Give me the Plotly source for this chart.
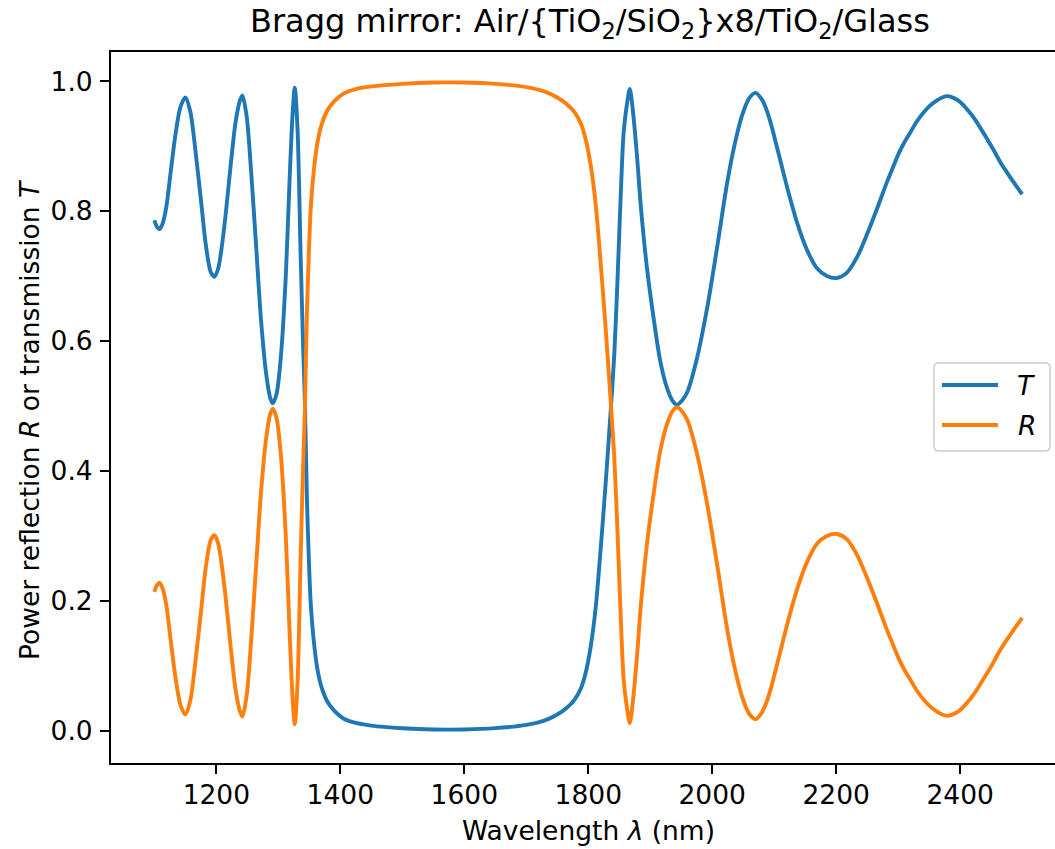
import plotly.graph_objects as go

# Wavelength samples (nm)
wavelength = [1100, 1104, 1108, 1113, 1119, 1126, 1134, 1142, 1150, 1158, 1166, 1175, 1183, 1191, 1197,
              1203, 1208, 1215, 1223, 1231, 1238, 1242, 1249, 1256, 1264, 1272, 1280, 1287, 1291, 1297,
              1304, 1312, 1318, 1323, 1326.5, 1331, 1336, 1340, 1343, 1346, 1349, 1352, 1357, 1363, 1370,
              1379, 1390, 1405, 1425, 1450, 1500, 1550, 1600, 1650, 1700, 1730, 1750, 1765, 1778, 1788,
              1796, 1804, 1812, 1820, 1828, 1836, 1842, 1847, 1852, 1857, 1862, 1867, 1873, 1879, 1885,
              1895, 1905, 1916, 1927, 1936, 1943, 1951, 1960, 1975, 1992, 2008,
              2024, 2036, 2048, 2059, 2070, 2080, 2088, 2096, 2104, 2112, 2121, 2137, 2153, 2169, 2185,
              2201, 2217, 2234, 2250, 2266, 2282, 2291, 2300, 2310, 2320, 2330, 2341, 2351, 2362, 2371,
              2380, 2390, 2400, 2410, 2421, 2432, 2443, 2454, 2465, 2476, 2486, 2500]

# Transmission T
T_values = [0.786, 0.776, 0.772, 0.780, 0.805, 0.858, 0.918, 0.960, 0.975, 0.953, 0.895, 0.818, 0.748, 0.706, 0.699,
            0.712, 0.740, 0.795, 0.870, 0.937, 0.970, 0.978, 0.945, 0.862, 0.748, 0.633, 0.552, 0.512, 0.504, 0.518,
            0.575, 0.700, 0.845, 0.950, 0.990, 0.925, 0.730, 0.590, 0.500, 0.360, 0.270, 0.200, 0.140, 0.095, 0.066,
            0.045, 0.031, 0.019, 0.012, 0.008, 0.004, 0.002, 0.002, 0.004, 0.009, 0.016, 0.025, 0.035, 0.048, 0.065,
            0.090, 0.130, 0.190, 0.280, 0.380, 0.490, 0.580, 0.690, 0.815, 0.920, 0.962, 0.988, 0.945, 0.880, 0.805,
            0.710, 0.638, 0.570, 0.528, 0.508, 0.502, 0.508, 0.522, 0.572, 0.652, 0.745,
            0.843, 0.902, 0.947, 0.973, 0.982, 0.972, 0.955, 0.930, 0.900, 0.870, 0.836, 0.782, 0.740, 0.712, 0.700,
            0.697, 0.705, 0.730, 0.765, 0.804, 0.845, 0.866, 0.887, 0.906, 0.922, 0.938, 0.952, 0.962, 0.970, 0.975,
            0.977, 0.974, 0.968, 0.958, 0.945, 0.929, 0.912, 0.894, 0.875, 0.859, 0.845, 0.826]

# Reflection R
R_values = [0.214, 0.224, 0.228, 0.220, 0.195, 0.142, 0.082, 0.040, 0.025, 0.047, 0.105, 0.182, 0.252, 0.294, 0.301,
            0.288, 0.260, 0.205, 0.130, 0.063, 0.030, 0.022, 0.055, 0.138, 0.252, 0.367, 0.448, 0.488, 0.496, 0.482,
            0.425, 0.300, 0.155, 0.050, 0.010, 0.075, 0.270, 0.410, 0.500, 0.640, 0.730, 0.800, 0.860, 0.905, 0.934,
            0.955, 0.969, 0.981, 0.988, 0.992, 0.996, 0.998, 0.998, 0.996, 0.991, 0.984, 0.975, 0.965, 0.952, 0.935,
            0.910, 0.870, 0.810, 0.720, 0.620, 0.510, 0.420, 0.310, 0.185, 0.080, 0.038, 0.012, 0.055, 0.120, 0.195,
            0.290, 0.362, 0.430, 0.472, 0.492, 0.498, 0.492, 0.478, 0.428, 0.348, 0.255,
            0.157, 0.098, 0.053, 0.027, 0.018, 0.028, 0.045, 0.070, 0.100, 0.130, 0.164, 0.218, 0.260, 0.288, 0.300,
            0.303, 0.295, 0.270, 0.235, 0.196, 0.155, 0.134, 0.113, 0.094, 0.078, 0.062, 0.048, 0.038, 0.030, 0.025,
            0.023, 0.026, 0.032, 0.042, 0.055, 0.071, 0.088, 0.106, 0.125, 0.141, 0.155, 0.174]

assert len(wavelength) == len(T_values) == len(R_values)

y_ticks = [0.0, 0.2, 0.4, 0.6, 0.8, 1.0]
x_ticks = [1200, 1400, 1600, 1800, 2000, 2200, 2400]

BLUE = "#1f77b4"
ORANGE = "#ff7f0e"
FONT = "DejaVu Sans"
FS = 26.5
LW = 3.9

W, H = 1055, 849
L, R_M, T_M, B_M = 111, 0, 52, 86
PW = W - L - R_M
PH = H - T_M - B_M


def px_x(px):
    return (px - L) / PW


def px_y(py):
    return (H - B_M - py) / PH


fig = go.Figure()
fig.add_trace(go.Scatter(x=wavelength, y=T_values, mode="lines", name="T",
                         line=dict(color=BLUE, width=LW, shape="spline", smoothing=0.8),
                         showlegend=False, hoverinfo="skip"))
fig.add_trace(go.Scatter(x=wavelength, y=R_values, mode="lines", name="R",
                         line=dict(color=ORANGE, width=LW, shape="spline", smoothing=0.8),
                         showlegend=False, hoverinfo="skip"))

fig.update_layout(
    width=W, height=H,
    margin=dict(l=L, r=R_M, t=T_M, b=B_M, pad=0),
    paper_bgcolor="white", plot_bgcolor="white",
    font=dict(family=FONT, size=FS, color="black"),
    showlegend=False,
)
fig.update_xaxes(range=[1030, 2553], tickvals=x_ticks, ticks="outside", ticklen=9, tickwidth=2,
                 tickcolor="black", showline=True, linecolor="black", linewidth=2, mirror=True,
                 showgrid=False, zeroline=False, ticklabelstandoff=-2,
                 tickfont=dict(family=FONT, size=FS, color="black"))
fig.update_yaxes(range=[-0.0496, 1.045], tickvals=y_ticks, tickformat=".1f", ticks="outside",
                 ticklen=9, tickwidth=2, tickcolor="black", showline=True, linecolor="black",
                 linewidth=2, mirror=False, showgrid=False, zeroline=False, ticklabelstandoff=2,
                 tickfont=dict(family=FONT, size=FS, color="black"))

annotations = [
    dict(text="Bragg mirror: Air/{TiO<sub>2</sub>/SiO<sub>2</sub>}x8/TiO<sub>2</sub>/Glass",
         x=px_x(590), y=px_y(23), xref="paper", yref="paper", showarrow=False,
         xanchor="center", yanchor="middle", font=dict(family=FONT, size=32, color="black")),
    dict(text="Wavelength <i>λ</i> (nm)", x=px_x(588), y=px_y(830), xref="paper", yref="paper",
         showarrow=False, xanchor="center", yanchor="middle", font=dict(family=FONT, size=FS, color="black")),
    dict(text="Power reflection <i>R</i> or transmission <i>T</i>", x=px_x(29), y=px_y(420),
         xref="paper", yref="paper", showarrow=False, textangle=-90, xanchor="center", yanchor="middle",
         font=dict(family=FONT, size=FS, color="black")),
    dict(text="<i>T</i>", x=px_x(1026), y=px_y(385), xref="paper", yref="paper", showarrow=False,
         xanchor="center", yanchor="middle", font=dict(family=FONT, size=FS, color="black")),
    dict(text="<i>R</i>", x=px_x(1027), y=px_y(426), xref="paper", yref="paper", showarrow=False,
         xanchor="center", yanchor="middle", font=dict(family=FONT, size=FS, color="black")),
]
fig.update_layout(annotations=annotations)

# Legend frame and handles (drawn as shapes in paper coordinates)
bx0, bx1, by0, by1, rr = 934, 1050, 363, 451, 5
path = (f"M {px_x(bx0 + rr)} {px_y(by0)} L {px_x(bx1 - rr)} {px_y(by0)} "
        f"Q {px_x(bx1)} {px_y(by0)} {px_x(bx1)} {px_y(by0 + rr)} "
        f"L {px_x(bx1)} {px_y(by1 - rr)} Q {px_x(bx1)} {px_y(by1)} {px_x(bx1 - rr)} {px_y(by1)} "
        f"L {px_x(bx0 + rr)} {px_y(by1)} Q {px_x(bx0)} {px_y(by1)} {px_x(bx0)} {px_y(by1 - rr)} "
        f"L {px_x(bx0)} {px_y(by0 + rr)} Q {px_x(bx0)} {px_y(by0)} {px_x(bx0 + rr)} {px_y(by0)} Z")
shapes = [
    dict(type="path", path=path, xref="paper", yref="paper",
         line=dict(color="#cccccc", width=1.5), fillcolor="rgba(255,255,255,0.8)", layer="above"),
    dict(type="line", x0=px_x(942), x1=px_x(998), y0=px_y(385), y1=px_y(385), xref="paper", yref="paper",
         line=dict(color=BLUE, width=LW), layer="above"),
    dict(type="line", x0=px_x(942), x1=px_x(998), y0=px_y(425), y1=px_y(425), xref="paper", yref="paper",
         line=dict(color=ORANGE, width=LW), layer="above"),
]
fig.update_layout(shapes=shapes)

fig.write_html("out.html", config={"displayModeBar": False},
               post_script="document.body.style.margin='0';document.body.style.overflow='hidden';")
